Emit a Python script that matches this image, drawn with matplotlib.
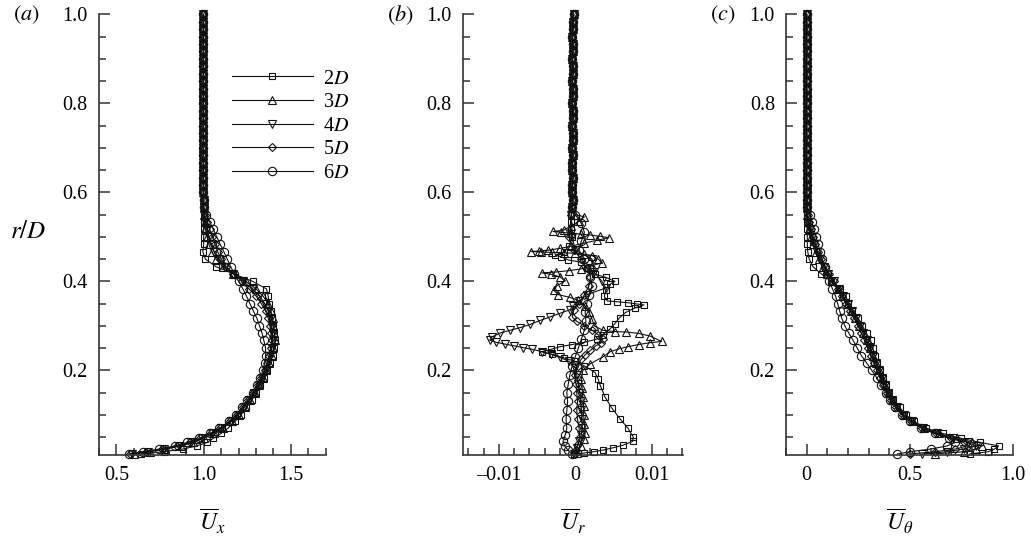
import matplotlib
matplotlib.use('Agg')
import matplotlib.pyplot as plt
from matplotlib.ticker import MultipleLocator, FixedLocator, FixedFormatter

plt.rcParams['font.family'] = 'Liberation Serif'
plt.rcParams['mathtext.fontset'] = 'stix'

# ---------------------------------------------------------------
# DATA
# ---------------------------------------------------------------
labels = ['2$D$', '3$D$', '4$D$', '5$D$', '6$D$']

# far field radii, shared by every series
r_far = [1.0, 0.983, 0.967, 0.95, 0.933, 0.917, 0.9, 0.883, 0.867, 0.85,
         0.833, 0.817, 0.8, 0.783, 0.767, 0.75, 0.733, 0.717, 0.7, 0.683,
         0.667, 0.65, 0.633, 0.617, 0.6, 0.583, 0.567]
# inner radii used in panels (a) and (c)
r_near = [0.55, 0.533, 0.517, 0.5, 0.483, 0.467, 0.45, 0.433, 0.417, 0.4,
          0.383, 0.367, 0.35, 0.333, 0.317, 0.3, 0.283, 0.267, 0.25, 0.233,
          0.217, 0.2, 0.183, 0.167, 0.15, 0.133, 0.117, 0.1, 0.085, 0.07,
          0.058, 0.047, 0.038, 0.03, 0.023, 0.017, 0.012]

# (a) axial velocity
ux_far = [0.998, 0.998, 0.999, 0.998, 0.998, 0.999, 0.998, 0.998, 0.999, 0.998,
          0.998, 0.999, 0.998, 0.998, 0.999, 0.998, 0.998, 0.999, 0.998, 0.998,
          0.999, 0.998, 0.998, 0.999, 0.999, 1.0, 1.0]
ux_2d = [1.0, 1.0, 1.0, 1.0, 1.0, 0.995, 1.01, 1.07, 1.17, 1.28, 1.36, 1.37, 1.375,
         1.385, 1.39, 1.4, 1.405, 1.41, 1.405, 1.395, 1.38, 1.365, 1.345, 1.325,
         1.3, 1.275, 1.245, 1.215, 1.18, 1.14, 1.1, 1.055, 1.02, 0.96, 0.88, 0.77, 0.64]
ux_3d = [1.0, 1.005, 1.01, 1.02, 1.03, 1.045, 1.07, 1.11, 1.17, 1.24, 1.3, 1.34, 1.37,
         1.385, 1.395, 1.4, 1.405, 1.41, 1.4, 1.39, 1.375, 1.36, 1.34, 1.32, 1.295,
         1.265, 1.235, 1.2, 1.16, 1.11, 1.06, 1.0, 0.94, 0.87, 0.78, 0.69, 0.6]
ux_4d = [1.0, 1.01, 1.02, 1.03, 1.045, 1.06, 1.09, 1.12, 1.17, 1.225, 1.28, 1.32, 1.35,
         1.37, 1.385, 1.39, 1.395, 1.395, 1.39, 1.38, 1.37, 1.355, 1.335, 1.315, 1.29,
         1.26, 1.23, 1.195, 1.155, 1.1, 1.05, 0.99, 0.93, 0.86, 0.77, 0.68, 0.59]
ux_5d = [1.005, 1.02, 1.035, 1.05, 1.065, 1.08, 1.1, 1.13, 1.17, 1.22, 1.26, 1.3, 1.33,
         1.355, 1.37, 1.38, 1.385, 1.39, 1.385, 1.375, 1.365, 1.35, 1.33, 1.31, 1.285,
         1.255, 1.225, 1.19, 1.15, 1.095, 1.04, 0.98, 0.92, 0.85, 0.76, 0.67, 0.58]
ux_6d = [1.015, 1.035, 1.055, 1.075, 1.095, 1.115, 1.135, 1.155, 1.175, 1.2, 1.225,
         1.245, 1.265, 1.285, 1.305, 1.32, 1.335, 1.345, 1.355, 1.355, 1.35, 1.34,
         1.325, 1.305, 1.28, 1.25, 1.22, 1.185, 1.145, 1.09, 1.035, 0.975, 0.905,
         0.835, 0.745, 0.655, 0.57]

# (b) radial velocity, each series has its own inner radii
ur_far = [-0.0002, -0.0003, -0.0003, -0.0004, -0.0003, -0.0003, -0.0004, -0.0003,
          -0.0003, -0.0004, -0.0003, -0.0003, -0.0004, -0.0003, -0.0003, -0.0004,
          -0.0003, -0.0003, -0.0004, -0.0003, -0.0004, -0.0004, -0.0003, -0.0004,
          -0.0004, -0.0003, -0.0004]
rb_2d = [0.55, 0.533, 0.517, 0.5, 0.48, 0.465, 0.459, 0.455, 0.448, 0.443, 0.431,
         0.416, 0.409, 0.4, 0.393, 0.38, 0.366, 0.356, 0.354, 0.352, 0.349, 0.347,
         0.34, 0.33, 0.318, 0.305, 0.292, 0.28, 0.27, 0.263, 0.258, 0.253, 0.247,
         0.242, 0.236, 0.228, 0.22, 0.21, 0.195, 0.18, 0.165, 0.14, 0.115, 0.09,
         0.07, 0.05, 0.04, 0.032, 0.026, 0.021, 0.017, 0.014, 0.012]
ur_2d = [-0.0005, -0.0006, -0.0006, -0.0004, -0.0008, -0.0015, -0.0026, -0.0018,
         -0.0009, 0.0007, 0.0015, 0.0026, 0.004, 0.0052, 0.0045, 0.004, 0.0038,
         0.0042, 0.0055, 0.0069, 0.0081, 0.009, 0.0078, 0.0066, 0.0058, 0.0052,
         0.0045, 0.0036, 0.0028, 0.0012, -0.0004, -0.002, -0.0032, -0.0044, -0.003,
         -0.0015, 0.0, 0.0012, 0.0026, 0.003, 0.0033, 0.0039, 0.0048, 0.0059,
         0.0069, 0.0076, 0.0075, 0.0063, 0.005, 0.0037, 0.0024, 0.0011, -0.0002]
rb_3d = [0.55, 0.545, 0.535, 0.525, 0.515, 0.512, 0.51, 0.508, 0.506, 0.504, 0.501,
         0.498, 0.492, 0.486, 0.479, 0.474, 0.47, 0.468, 0.467, 0.466, 0.465, 0.464,
         0.463, 0.461, 0.458, 0.45, 0.442, 0.435, 0.428, 0.424, 0.421, 0.419, 0.416,
         0.41, 0.401, 0.39, 0.38, 0.37, 0.364, 0.358, 0.345, 0.33, 0.315, 0.3, 0.29,
         0.287, 0.286, 0.283, 0.277, 0.265, 0.262, 0.258, 0.253, 0.248, 0.242, 0.23,
         0.215, 0.2, 0.18, 0.16, 0.14, 0.12, 0.1, 0.08, 0.06, 0.045, 0.03, 0.015]
ur_3d = [0.0, 0.0012, 0.0005, -0.0005, -0.0015, -0.0029, -0.0018, -0.0005, 0.0008,
         0.002, 0.0033, 0.0044, 0.0028, 0.0012, -0.0005, -0.002, -0.0035, -0.0048,
         -0.0058, -0.0045, -0.003, -0.0015, 0.0, 0.0012, 0.0022, 0.003, 0.0035,
         0.0022, 0.0008, -0.0008, -0.0025, -0.0044, -0.0032, -0.002, -0.0013,
         -0.0024, -0.0028, -0.0022, -0.0007, 0.0003, 0.0013, 0.0018, 0.0022, 0.0025,
         0.0036, 0.0052, 0.0067, 0.0083, 0.0098, 0.0113, 0.0098, 0.0083, 0.0069,
         0.0057, 0.0046, 0.0036, 0.002, 0.001, 0.0008, 0.0009, 0.001, 0.0011,
         0.0011, 0.0012, 0.0013, 0.0012, 0.0008, 0.0002]
rb_4d = [0.55, 0.5, 0.47, 0.45, 0.42, 0.4, 0.385, 0.37, 0.355, 0.345, 0.336, 0.328,
         0.32, 0.312, 0.303, 0.296, 0.29, 0.284, 0.275, 0.268, 0.263, 0.259, 0.255,
         0.251, 0.247, 0.242, 0.236, 0.229, 0.22, 0.205, 0.19, 0.17, 0.15, 0.13,
         0.11, 0.09, 0.07, 0.055, 0.04, 0.025, 0.012]
ur_4d = [-0.0005, -0.0004, 0.0, 0.0022, 0.0025, 0.0035, 0.004, 0.0015, 0.0005,
         -0.0003, -0.0007, -0.002, -0.0033, -0.0046, -0.0059, -0.0072, -0.0085,
         -0.0098, -0.0109, -0.0112, -0.0104, -0.0092, -0.008, -0.0068, -0.0056,
         -0.0044, -0.0032, -0.002, -0.0008, 0.0, 0.0002, 0.0004, 0.0006, 0.0007,
         0.0008, 0.0009, 0.0009, 0.0008, 0.0005, 0.0002, 0.0]
rb_5d = [0.55, 0.5, 0.47, 0.45, 0.43, 0.41, 0.39, 0.37, 0.35, 0.335, 0.32, 0.31, 0.3,
         0.29, 0.28, 0.27, 0.262, 0.255, 0.245, 0.235, 0.225, 0.21, 0.19, 0.17, 0.15,
         0.13, 0.11, 0.09, 0.07, 0.05, 0.035, 0.02, 0.012]
ur_5d = [-0.0005, -0.0008, -0.0002, 0.0008, 0.0015, 0.002, 0.0018, 0.0012, 0.0005,
         -0.0002, -0.0004, 0.0002, 0.0012, 0.0022, 0.003, 0.0036, 0.0034, 0.0027,
         0.002, 0.0013, 0.0008, 0.0003, 0.0, 0.0001, 0.0002, 0.0003, 0.0002, 0.0003,
         0.0005, 0.0006, 0.0004, 0.0001, 0.0]
rb_6d = [0.55, 0.53, 0.51, 0.49, 0.47, 0.45, 0.43, 0.41, 0.39, 0.37, 0.35, 0.33, 0.31,
         0.29, 0.27, 0.25, 0.23, 0.21, 0.19, 0.17, 0.15, 0.13, 0.11, 0.09, 0.07, 0.055,
         0.04, 0.03, 0.02, 0.012]
ur_6d = [0.0, 0.0008, 0.0012, 0.0008, 0.0005, 0.0012, 0.0018, 0.002, 0.0022, 0.0018,
         0.0015, 0.0013, 0.0014, 0.0012, 0.0008, 0.0004, 0.0, -0.0004, -0.0007,
         -0.0009, -0.0011, -0.001, -0.0011, -0.0012, -0.0011, -0.0013, -0.0016,
         -0.0014, -0.0009, -0.0004]

# (c) swirl velocity
ut_far = [0.0, 0.0, 0.001, 0.0, 0.0, 0.001, 0.0, 0.0, 0.001, 0.0, 0.0, 0.001, 0.0,
          0.0, 0.001, 0.0, 0.0, 0.001, 0.0, 0.0, 0.001, 0.0, 0.0, 0.001, 0.0, 0.001, 0.002]
ut_2d = [0.0, 0.0, 0.002, 0.003, 0.003, 0.005, 0.012, 0.03, 0.07, 0.12, 0.16, 0.19,
         0.2, 0.22, 0.25, 0.27, 0.29, 0.31, 0.32, 0.33, 0.34, 0.355, 0.37, 0.385, 0.4,
         0.42, 0.45, 0.48, 0.52, 0.58, 0.66, 0.75, 0.84, 0.93, 0.91, 0.88, 0.79]
ut_3d = [0.002, 0.006, 0.012, 0.02, 0.03, 0.045, 0.06, 0.08, 0.1, 0.125, 0.15, 0.175,
         0.195, 0.215, 0.235, 0.255, 0.275, 0.29, 0.305, 0.32, 0.335, 0.35, 0.365,
         0.38, 0.395, 0.415, 0.44, 0.47, 0.51, 0.57, 0.64, 0.73, 0.8, 0.85, 0.82, 0.76, 0.62]
ut_4d = [0.003, 0.008, 0.015, 0.024, 0.035, 0.05, 0.065, 0.085, 0.105, 0.13, 0.155,
         0.178, 0.2, 0.22, 0.24, 0.258, 0.275, 0.29, 0.305, 0.32, 0.335, 0.35, 0.365,
         0.38, 0.395, 0.415, 0.44, 0.47, 0.51, 0.565, 0.63, 0.71, 0.78, 0.82, 0.76, 0.68, 0.56]
ut_5d = [0.005, 0.012, 0.02, 0.03, 0.042, 0.055, 0.07, 0.09, 0.11, 0.13, 0.15, 0.17,
         0.19, 0.21, 0.23, 0.25, 0.265, 0.28, 0.295, 0.31, 0.325, 0.34, 0.355, 0.37,
         0.39, 0.41, 0.435, 0.465, 0.505, 0.56, 0.625, 0.7, 0.76, 0.78, 0.72, 0.62, 0.5]
ut_6d = [0.015, 0.025, 0.035, 0.045, 0.055, 0.065, 0.075, 0.09, 0.1, 0.11, 0.125, 0.14,
         0.15, 0.16, 0.17, 0.185, 0.205, 0.225, 0.245, 0.265, 0.29, 0.315, 0.34, 0.36,
         0.385, 0.405, 0.43, 0.46, 0.5, 0.555, 0.62, 0.69, 0.72, 0.68, 0.6, 0.5, 0.44]

# ---------------------------------------------------------------
# FIGURE
# ---------------------------------------------------------------
markers = ['s', '^', 'v', 'D', 'o']
msizes = [5, 5.5, 5.5, 4.2, 6]
ink = '#111111'

fig = plt.figure(figsize=(10.31, 5.52), dpi=100)
ax_a = fig.add_axes([0.096, 0.176, 0.220, 0.798])
ax_b = fig.add_axes([0.449, 0.176, 0.2134, 0.798])
ax_c = fig.add_axes([0.7624, 0.176, 0.2202, 0.798])


def draw(ax, xs, ys):
    for x, y, lab, mk, ms in zip(xs, ys, labels, markers, msizes):
        ax.plot(x, y, color=ink, lw=0.8, marker=mk, ms=ms, mfc='none',
                mec=ink, mew=0.8, label=lab, clip_on=False)


def style(ax, xlim, xticks, xticklabels, xminor, xlabel):
    ax.set_xlim(*xlim)
    ax.set_ylim(0.01, 1.0)
    for s in ['top', 'right']:
        ax.spines[s].set_visible(False)
    for s in ['left', 'bottom']:
        ax.spines[s].set_linewidth(1.2)
        ax.spines[s].set_color('#333333')
    ax.yaxis.set_major_locator(FixedLocator([0.2, 0.4, 0.6, 0.8, 1.0]))
    ax.yaxis.set_major_formatter(FixedFormatter(['0.2', '0.4', '0.6', '0.8', '1.0']))
    ax.yaxis.set_minor_locator(MultipleLocator(0.05))
    ax.xaxis.set_major_locator(FixedLocator(xticks))
    ax.xaxis.set_major_formatter(FixedFormatter(xticklabels))
    ax.xaxis.set_minor_locator(MultipleLocator(xminor))
    ax.tick_params(which='major', direction='in', length=8, width=1.1,
                   color='#333333', pad=8, labelsize=14.5)
    ax.tick_params(which='minor', direction='in', length=5, width=1.1,
                   color='#333333')
    ax.set_xlabel(xlabel, fontsize=17, labelpad=16)


draw(ax_a, [ux_far + s for s in [ux_2d, ux_3d, ux_4d, ux_5d, ux_6d]],
     [r_far + r_near] * 5)
draw(ax_b, [ur_far + s for s in [ur_2d, ur_3d, ur_4d, ur_5d, ur_6d]],
     [r_far + s for s in [rb_2d, rb_3d, rb_4d, rb_5d, rb_6d]])
draw(ax_c, [ut_far + s for s in [ut_2d, ut_3d, ut_4d, ut_5d, ut_6d]],
     [r_far + r_near] * 5)

style(ax_a, (0.4, 1.7), [0.5, 1.0, 1.5], ['0.5', '1.0', '1.5'], 0.1,
      r'$\overline{U}_x$')
style(ax_b, (-0.0147, 0.0141), [-0.01, 0.0, 0.01], ['\u20130.01', '0', '0.01'],
      0.002, r'$\overline{U}_r$')
style(ax_c, (-0.1, 1.0), [0.0, 0.5, 1.0], ['0', '0.5', '1.0'], 0.1,
      r'$\overline{U}_\theta$')

ax_a.legend(loc='upper left', bbox_to_anchor=(0.585, 0.875), frameon=False,
            numpoints=1, handlelength=4.05, handletextpad=0.5, labelspacing=0.22,
            fontsize=14.5, borderpad=0, borderaxespad=0)

fig.text(0.027, 0.58, r'$r/D$', fontsize=18, va='center', ha='center')
for x, lab in [(0.026, '(a)'), (0.388, '(b)'), (0.701, '(c)')]:
    fig.text(x, 0.973, r'$' + lab + '$', fontsize=16, va='center', ha='center')

fig.savefig('out.png', dpi=100)
